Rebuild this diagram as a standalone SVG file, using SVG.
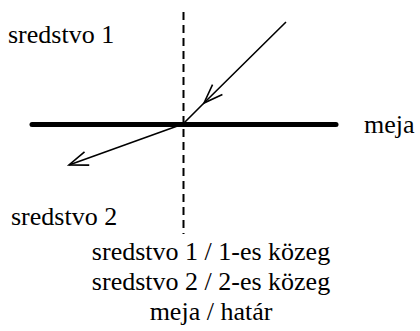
<svg xmlns="http://www.w3.org/2000/svg" width="420" height="331" viewBox="0 0 420 331">
<defs>
<marker id="v" markerUnits="userSpaceOnUse" viewBox="-22 -10 24 20" markerWidth="24" markerHeight="20" refX="0" refY="0" orient="auto">
<path d="M-19,-7 L0,0 L-19,7" fill="none" stroke="#000" stroke-width="1.6"/>
</marker>
</defs>
<rect width="420" height="331" fill="#fff"/>
<g id="normal">
<line x1="183.5" y1="12" x2="183.5" y2="234" stroke="#000" stroke-width="2" stroke-dasharray="8 5"/>
</g>
<g id="boundary">
<line x1="32" y1="124.5" x2="336" y2="124.5" stroke="#000" stroke-width="5" stroke-linecap="round"/>
</g>
<g id="connectors" fill="none" stroke="#000" stroke-width="1.6">
<path d="M286,22 L204,103 L183,124" marker-mid="url(#v)"/>
<path d="M183,124 L69,165" marker-end="url(#v)"/>
</g>
<g id="label-medium1"><text x="8" y="43" font-family="Liberation Serif" font-size="26">sredstvo 1</text></g>
<g id="label-meja"><text x="364" y="133" font-family="Liberation Serif" font-size="26">meja</text></g>
<g id="label-medium2"><text x="11" y="225" font-family="Liberation Serif" font-size="26">sredstvo 2</text></g>
<g id="legend">
<text x="211" y="260" font-family="Liberation Serif" font-size="26" text-anchor="middle">sredstvo 1 / 1-es közeg</text>
<text x="211" y="290" font-family="Liberation Serif" font-size="26" text-anchor="middle">sredstvo 2 / 2-es közeg</text>
<text x="211" y="320" font-family="Liberation Serif" font-size="26" text-anchor="middle">meja / határ</text>
</g>
</svg>
